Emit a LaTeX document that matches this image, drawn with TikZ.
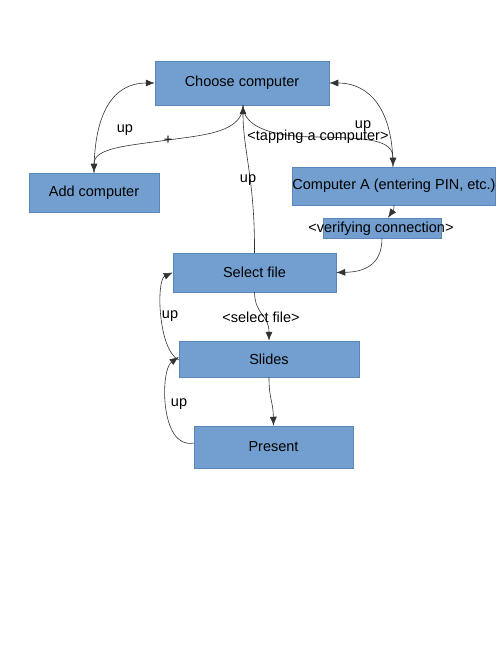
\documentclass[tikz,border=0pt]{standalone}
\usepackage{fontspec}
\setmainfont{Liberation Sans}
\usetikzlibrary{arrows.meta}
\definecolor{boxfill}{HTML}{729FCF}
\definecolor{boxdraw}{HTML}{5A86BA}
\definecolor{edgecol}{HTML}{333333}
\begin{document}
\begin{tikzpicture}[x=1pt,y=-1pt,
  box/.style={draw=boxdraw,fill=boxfill,line width=0.5pt,rectangle,inner sep=0pt,
    font=\fontsize{14.5}{16}\selectfont,text=black},
  lbl/.style={inner sep=0pt,font=\fontsize{14.5}{16}\selectfont,text=black},
  conn/.style={draw=edgecol,line width=0.6pt,-{Latex[length=9pt,width=7pt]}}]
\useasboundingbox (0,0) rectangle (500,647);
\node[box,minimum width=174pt,minimum height=44pt] (choose) at (242,83) {Choose computer};
\node[box,minimum width=130pt,minimum height=39pt] (add) at (94,192.5) {Add computer};
\node[box,minimum width=188pt,minimum height=38pt] (compa) at (394,186) {Computer A (entering PIN, etc.)};
\node[box,minimum width=118pt,minimum height=20pt] (verify) at (382,228) {};
\node[lbl] (verifytxt) at (381,229) {<verifying connection>};
\node[box,minimum width=163pt,minimum height=39pt] (select) at (254.5,272.5) {Select file};
\node[box,minimum width=180pt,minimum height=36pt] (slides) at (269,359) {Slides};
\node[box,minimum width=159pt,minimum height=42pt] (present) at (273.5,447) {Present};

% Add <-> Choose
\draw[conn] (add.north) .. controls (94,110) and (115,83) .. (choose.west);
\draw[conn] ([xshift=1pt]choose.south) .. controls (243,132) and (205,135) .. (168,140)
   .. controls (125,146) and (94,148) .. (add.north);
% Choose <-> Computer A
\draw[conn] ([xshift=-1pt]compa.north) .. controls (393,110) and (370,83) .. (choose.east);
\draw[conn] ([xshift=1pt]choose.south) .. controls (243,128) and (275,137) .. (318,137)
   .. controls (370,138) and (393,140) .. ([xshift=-1pt]compa.north);
% Select -> Choose
\draw[conn] (select.north) .. controls (255,180) and (243,150) .. ([xshift=1pt]choose.south);
% Computer A -> verify -> Select
\draw[conn] (compa.south) .. controls (394,213) and (392,212) .. ([xshift=6pt]verify.north);
\draw[conn] (verify.south) .. controls (382,268) and (360,272) .. (select.east);
% Select -> Slides
\draw[conn] (select.south) .. controls (255,315) and (269,315) .. (slides.north);
% Slides -> Select
\draw[conn] ([yshift=-1pt]slides.west) .. controls (158,350) and (156,280) .. (select.west);
% Slides -> Present
\draw[conn] (slides.south) .. controls (269,400) and (273,400) .. (present.north);
% Present -> Slides
\draw[conn] ([yshift=4pt]present.west) .. controls (160,450) and (160,370) .. ([yshift=2pt]slides.west);

% labels
\node[lbl] (lup1) at (125,130) {up};
\node[lbl] (lplus) at (168,140) {+};
\node[lbl] (lup2) at (363,126) {up};
\node[lbl] (ltap) at (318,137) {<tapping a computer>};
\node[lbl] (lup3) at (248,180) {up};
\node[lbl] (lsel) at (261,317) {<select file>};
\node[lbl] (lup4) at (170,316) {up};
\node[lbl] (lup5) at (179,404) {up};
\end{tikzpicture}
\end{document}
